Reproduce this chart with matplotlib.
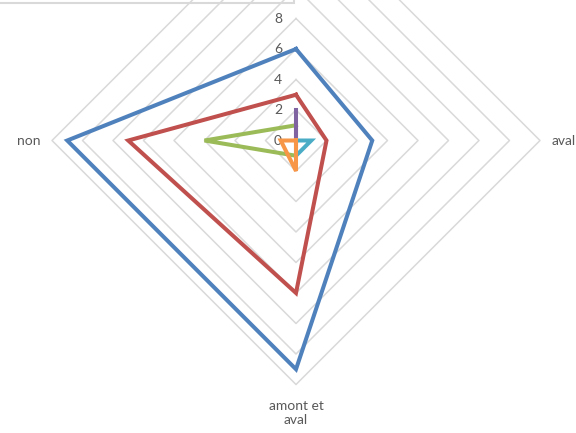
import numpy as np
import matplotlib
matplotlib.use('Agg')
import matplotlib.pyplot as plt
from matplotlib.patches import Rectangle

plt.rcParams['font.family'] = ['Lato', 'DejaVu Sans']

# Radar categories, clockwise from the top (top one is cut off in the image)
categories = ['amont', 'aval', 'amont et aval', 'non']

# series values, one per category
blue = [6, 5, 15, 15]
red = [3, 2, 10, 11]
green = [1, 0, 1, 6]
purple = [2, 0, 0, 0]
cyan = [0, 1, 1, 0]
orange = [0, 0, 2, 1]

series = [blue, red, green, purple, cyan, orange]
colors = ['#4F81BD', '#C0504D', '#9BBB59', '#8064A2', '#4BACC6', '#F79646']

grid_values = [2, 4, 6, 8, 10, 12, 14, 16]
# only the lower tick labels are inside the picture
tick_values = [0, 2, 4, 6, 8]
rmax = 16

fig = plt.figure(figsize=(5.76, 4.33), dpi=100)

# center at (296, 140.5) px, radius 244 px
cx, cy, R = 296, 140.5, 244
W, H = 576, 433
ax = fig.add_axes([(cx - R) / W, (H - cy - R) / H, 2 * R / W, 2 * R / H],
                  projection='polar')
ax.set_theta_zero_location('N')
ax.set_theta_direction(-1)
ax.set_ylim(0, rmax)
ax.grid(False)
ax.spines['polar'].set_visible(False)
ax.set_xticks([])
ax.set_yticks([])
ax.patch.set_visible(False)

angles = np.linspace(0, 2 * np.pi, len(categories), endpoint=False)
closed = np.append(angles, angles[0])

# diamond gridlines
for g in grid_values:
    ax.plot(closed, [g] * len(closed), color='#D9D9D9', lw=1.1, zorder=1,
            clip_on=False)

# radial tick labels along the top axis
for v in tick_values:
    ax.annotate(str(v), xy=(0, v), xytext=(-10, 0), textcoords='offset points',
                ha='right', va='center', fontsize=10, color='#595959',
                annotation_clip=False)

# data series
for vals, col in zip(series, colors):
    ax.plot(closed, vals + vals[:1], color=col, lw=2.9, zorder=3,
            solid_joinstyle='miter', clip_on=False)

# category labels (the top one falls outside the picture)
offsets = [None, (8, 0, 'left', 'center'),
           (0, -11, 'center', 'top'), (-8, 0, 'right', 'center')]
for ang, name, off in zip(angles, categories, offsets):
    if off is None:
        continue
    dx, dy, ha, va = off
    label = 'amont et\naval' if name == 'amont et aval' else name
    ax.annotate(label, xy=(ang, rmax), xytext=(dx, dy), textcoords='offset points',
                ha=ha, va=va, fontsize=10, color='#595959', multialignment='center',
                linespacing=1.25, annotation_clip=False)

# box edge at the top-left corner
fig.add_artist(Rectangle((-0.01, 1 - 3 / H), 294 / W + 0.01, 0.05,
                         transform=fig.transFigure, fill=False,
                         ec='#D9D9D9', lw=1.5))

fig.savefig('out.png', dpi=100)
